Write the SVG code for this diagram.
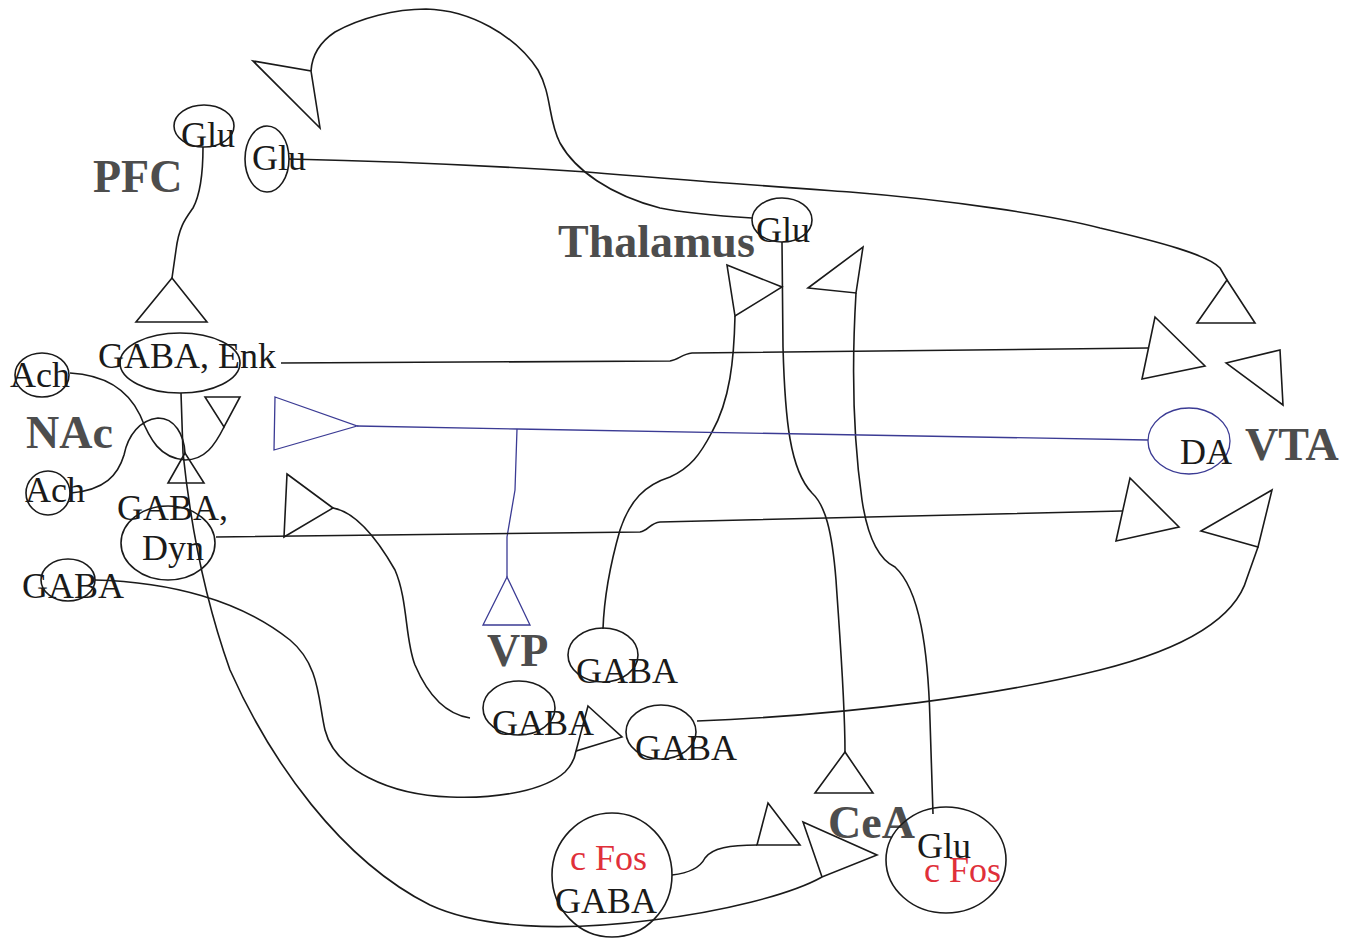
<svg xmlns="http://www.w3.org/2000/svg" width="1355" height="942" viewBox="0 0 1355 942">
<style>
.bg{fill:#ffffff}
.cell{fill:none;stroke:#1a1a1a;stroke-width:1.6}
.cellb{fill:none;stroke:#3b3b94;stroke-width:1.3}
.syn{fill:none;stroke:#1a1a1a;stroke-width:1.6;stroke-linejoin:miter}
.synb{fill:none;stroke:#3b3b94;stroke-width:1.3}
.ln{fill:none;stroke:#1a1a1a;stroke-width:1.6}
.lnb{fill:none;stroke:#3b3b94;stroke-width:1.3}
.t{font-family:"Liberation Serif","Times New Roman",serif;font-size:36px;fill:#1a1a1a}
.r{fill:#e0303a}
.lbl{font-family:"Liberation Serif","Times New Roman",serif;font-size:46px;font-weight:bold;fill:#4d4d4d}
</style>
<rect class="bg" x="0" y="0" width="1355" height="942"/>

<g id="connectors">
<path class="ln" d="M203,147 C203,170 200,195 193,208 C186,218 179,226 176,250 L172,278"/>
<path class="ln" d="M311,71 C312,55 320,42 335,32 C360,18 395,9 426,9 C470,10 515,35 538,70 C552,95 548,120 560,143 C575,170 610,195 660,208 C690,214 720,216 752,218"/>
<path class="ln" d="M289,159 C380,161 480,165 587,172 C680,180 780,187 850,192 C950,200 1050,215 1100,228 C1160,242 1208,255 1220,268 L1227,280"/>
<path class="ln" d="M782,242 L783,347 C785,420 790,470 812,493 C825,505 832,530 836,580 C840,640 845,700 845,752"/>
<path class="ln" d="M735,316 C734,360 730,400 712,432 C700,455 690,468 670,477 C645,485 630,500 620,530 C610,565 604,600 603,629"/>
<path class="ln" d="M856,293 C852,360 852,430 862,500 C868,540 880,560 895,567 C920,590 928,650 930,720 L933,814"/>
<path class="ln" d="M281,363 L670,361 C678,360 682,354 692,353 L1148,348"/>
<path class="lnb" d="M357,426 L517,429 L1148,440"/>
<path class="lnb" d="M517,429 L515,490 L507,537 L507,577"/>
<path class="ln" d="M216,537 L640,532 C648,531 650,523 660,522 L1122,511"/>
<path class="ln" d="M333,508 C355,512 375,535 395,570 C408,600 405,640 415,665 C430,700 450,715 470,718"/>
<path class="ln" d="M95,580 C170,582 240,600 290,640 C320,665 318,700 325,730 C335,770 390,795 450,797 C500,799 545,790 565,772 C572,765 575,757 576,751"/>
<path class="ln" d="M181,393 L183,453 C190,520 205,600 230,670 C270,760 340,860 430,905 C480,928 560,932 653,920 C720,912 790,895 822,877"/>
<path class="ln" d="M70,373 C105,375 128,390 140,415 C150,440 160,458 185,460 C205,460 215,445 224,427"/>
<path class="ln" d="M71,493 C105,490 118,475 124,455 C128,435 140,420 158,418 C175,418 184,435 185,453"/>
<path class="ln" d="M672,875 C690,873 700,868 705,858 C712,848 730,845 757,845"/>
<path class="ln" d="M1258,547 L1247,578 C1235,620 1180,650 1100,670 C1000,695 850,715 697,721"/>
</g>

<g id="synapses">
<polygon id="syn-pfc-nac" class="syn" points="172,278 136,322 207,322"/>
<polygon id="syn-loop" class="syn" points="253,61 311,71 320,128"/>
<polygon id="syn-thal-left" class="syn" points="727,265 782,287 735,316"/>
<polygon id="syn-thal-right" class="syn" points="808,288 863,247 856,293"/>
<polygon id="syn-vta-top" class="syn" points="1227,280 1197,323 1255,323"/>
<polygon id="syn-vta-enk" class="syn" points="1155,317 1205,366 1142,379"/>
<polygon id="syn-vta-r1" class="syn" points="1226,363 1280,350 1283,405"/>
<polygon id="syn-vta-dyn" class="syn" points="1130,478 1179,527 1116,541"/>
<polygon id="syn-vta-r2" class="syn" points="1201,531 1272,490 1258,547"/>
<polygon id="syn-nac-blue" class="synb" points="275,397 357,426 274,450"/>
<polygon id="syn-nac-inv" class="syn" points="205,397 240,397 224,427"/>
<polygon id="syn-nac-up" class="syn" points="185,453 168,483 204,483"/>
<polygon id="syn-nac-dyn" class="syn" points="287,474 333,508 284,537"/>
<polygon id="syn-vp-blue" class="synb" points="507,577 483,625 530,625"/>
<polygon id="syn-vp" class="syn" points="588,706 622,737 576,751"/>
<polygon id="syn-cea-top" class="syn" points="845,752 815,793 873,793"/>
<polygon id="syn-cea-small" class="syn" points="768,803 800,845 757,845"/>
<polygon id="syn-cea-big" class="syn" points="803,822 877,855 822,877"/>
</g>

<g id="label-pfc"><text class="lbl" x="93" y="192">PFC</text></g>
<g id="label-nac"><text class="lbl" x="26" y="448">NAc</text></g>
<g id="label-thalamus"><text class="lbl" x="558" y="257">Thalamus</text></g>
<g id="label-vp"><text class="lbl" x="487" y="666">VP</text></g>
<g id="label-vta"><text class="lbl" x="1245" y="460">VTA</text></g>
<g id="label-cea"><text class="lbl" x="828" y="838">CeA</text></g>

<g id="pfc-glu1"><ellipse class="cell" cx="204" cy="126" rx="30" ry="21"/><text class="t" x="181" y="147">Glu</text></g>
<g id="pfc-glu2"><ellipse class="cell" cx="267" cy="159" rx="22" ry="33"/><text class="t" x="252" y="170">Glu</text></g>
<g id="thal-glu"><ellipse class="cell" cx="782" cy="220" rx="30" ry="22"/><text class="t" x="756" y="242">Glu</text></g>
<g id="nac-enk"><ellipse class="cell" cx="180" cy="363" rx="60" ry="30"/><text class="t" x="98" y="368">GABA, Enk</text></g>
<g id="nac-ach1"><ellipse class="cell" cx="42" cy="375" rx="27" ry="22"/><text class="t" x="10" y="387">Ach</text></g>
<g id="nac-ach2"><ellipse class="cell" cx="48" cy="493" rx="22" ry="22"/><text class="t" x="25" y="502">Ach</text></g>
<g id="nac-dyn"><ellipse class="cell" cx="168" cy="543" rx="47" ry="37"/><text class="t" x="117" y="520">GABA,</text><text class="t" x="142" y="560">Dyn</text></g>
<g id="nac-gaba"><ellipse class="cell" cx="68" cy="580" rx="27" ry="21"/><text class="t" x="22" y="598">GABA</text></g>
<g id="vta-da"><ellipse class="cellb" cx="1189" cy="441" rx="41" ry="33"/><text class="t" x="1180" y="464">DA</text></g>
<g id="vp-gaba1"><ellipse class="cell" cx="603" cy="655" rx="35" ry="27"/><text class="t" x="576" y="683">GABA</text></g>
<g id="vp-gaba2"><ellipse class="cell" cx="519" cy="708" rx="36" ry="27"/><text class="t" x="492" y="735">GABA</text></g>
<g id="vp-gaba3"><ellipse class="cell" cx="661" cy="732" rx="35" ry="27"/><text class="t" x="635" y="760">GABA</text></g>
<g id="cea-gaba"><ellipse class="cell" cx="612" cy="875" rx="60" ry="62"/><text class="t r" x="570" y="870">c Fos</text><text class="t" x="555" y="913">GABA</text></g>
<g id="cea-glu"><ellipse class="cell" cx="946" cy="860" rx="60" ry="53"/><text class="t" x="917" y="858">Glu</text><text class="t r" x="924" y="882">c Fos</text></g>
</svg>
